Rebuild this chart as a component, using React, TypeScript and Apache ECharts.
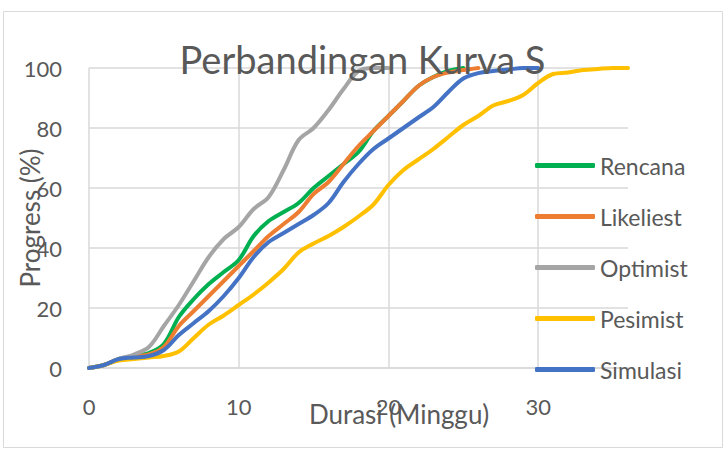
import React, { useEffect, useRef } from "react";
import * as echarts from "echarts";

const titleText = "Perbandingan Kurva S";
const xAxisName = "Durasi (Minggu)";
const yAxisName = "Progress (%)";
const seriesNames = ["Rencana", "Likeliest", "Optimist", "Pesimist", "Simulasi"];
const seriesColors = ["#00B050", "#ED7D31", "#A5A5A5", "#FFC000", "#4472C4"];

// progress (%) per week, starting at week 0
const rencana = [0, 1, 3, 4, 5, 8, 17, 23, 28, 32, 36, 44, 49, 52, 55, 60, 64, 68, 72, 79, 84, 89, 94, 97, 99, 100];
const likeliest = [0, 1, 3, 3.8, 4.5, 7, 14, 19, 24, 29, 34, 39, 44, 48, 52, 58, 62, 68, 74, 79, 84, 89, 94, 97, 98.5, 99.3, 100];
const optimist = [0, 1, 3, 4.5, 7, 14, 21, 29, 37, 43, 47, 53, 57, 66, 76, 80, 86, 93, 99, 100, 100];
const pesimist = [0, 1, 2.5, 3, 3.5, 4, 5.5, 10, 14.5, 17.5, 21, 24.5, 28.5, 33, 38.5, 41.5, 44, 47, 50.5, 54.5, 61, 66, 69.5, 73, 77, 81, 84, 87.5, 89, 91, 95, 98, 98.5, 99.3, 99.7, 100, 100];
const simulasi = [0, 1, 3, 3.5, 4, 6, 11, 15, 19, 24, 30, 37, 42, 45, 48, 51, 55, 62, 68, 73, 76.5, 80, 83.5, 87, 92, 96.5, 98.3, 99, 99.5, 100, 100];

const allValues = [rencana, likeliest, optimist, pesimist, simulasi];

const FONT = "Lato";
const GREY_TEXT = "#595959";
const GRID_LINE = "#D9D9D9";

export default function App() {
  const ref = useRef<HTMLDivElement>(null);
  useEffect(() => {
    if (!ref.current) return;
    const chart = echarts.init(ref.current, undefined, { renderer: "svg" });
    const series = seriesNames.map((name, i) => ({
      name,
      type: "line",
      data: allValues[i].map((v, w) => [w, v]),
      showSymbol: false,
      smooth: 0.35,
      lineStyle: { width: 4, color: seriesColors[i], cap: "round", join: "round" },
      itemStyle: { color: seriesColors[i] },
    }));
    chart.setOption({
      animation: false,
      backgroundColor: "#ffffff",
      textStyle: { fontFamily: FONT },
      title: {
        text: titleText,
        left: "center",
        top: 35,
        textStyle: { fontFamily: FONT, fontSize: 38, fontWeight: "normal", color: GREY_TEXT },
      },
      grid: { left: 89, right: 97, top: 68, bottom: 82, containLabel: false },
      legend: {
        orient: "vertical",
        left: 535,
        top: 154,
        padding: 0,
        icon: "roundRect",
        itemWidth: 60,
        itemHeight: 5,
        itemGap: 28,
        textStyle: { fontFamily: FONT, fontSize: 23, color: GREY_TEXT },
        data: seriesNames,
      },
      xAxis: {
        type: "value",
        min: 0,
        max: 36,
        interval: 10,
        axisLine: { show: true, lineStyle: { color: GRID_LINE, width: 1.5 } },
        axisTick: { show: false },
        axisLabel: { fontFamily: FONT, fontSize: 22, color: GREY_TEXT, margin: 27, showMaxLabel: false },
        splitLine: { show: true, showMaxLine: false, lineStyle: { color: GRID_LINE, width: 1.5 } },
      },
      yAxis: {
        type: "value",
        min: 0,
        max: 100,
        interval: 20,
        axisLine: { show: false },
        axisTick: { show: false },
        axisLabel: { fontFamily: FONT, fontSize: 22, color: GREY_TEXT, margin: 27 },
        splitLine: { show: true, lineStyle: { color: GRID_LINE, width: 1.5 } },
      },
      graphic: [
        {
          type: "rect",
          shape: { x: 3.5, y: 11.5, width: 719, height: 436 },
          style: { fill: "none", stroke: GRID_LINE, lineWidth: 1 },
          silent: true,
          z: -1,
        },
        {
          type: "text",
          x: 399,
          y: 414,
          style: {
            text: xAxisName,
            fontFamily: FONT,
            fontSize: 26,
            fill: GREY_TEXT,
            textAlign: "center",
            textVerticalAlign: "middle",
          },
        },
        {
          type: "text",
          x: 30,
          y: 218,
          rotation: Math.PI / 2,
          style: {
            text: yAxisName,
            fontFamily: FONT,
            fontSize: 26,
            fill: GREY_TEXT,
            textAlign: "center",
            textVerticalAlign: "middle",
          },
        },
      ],
      series,
    });
    return () => chart.dispose();
  }, []);
  return <div ref={ref} style={{ position: "fixed", left: 0, top: 0, width: 725, height: 450 }} />;
}
